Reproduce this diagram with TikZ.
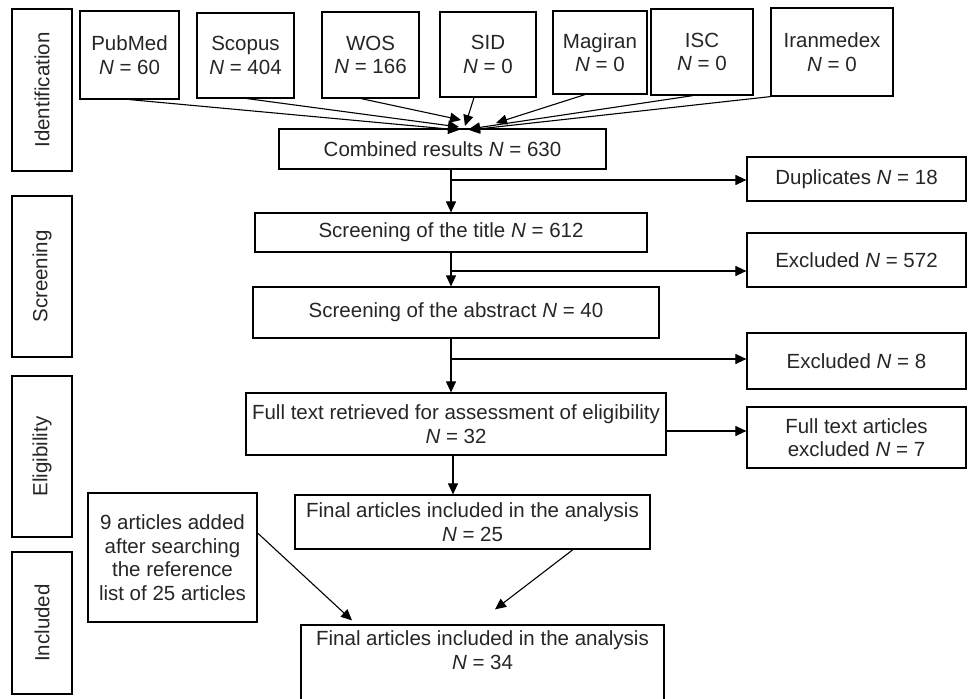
\documentclass[tikz,border=0pt]{standalone}
\usepackage{fontspec}
\setmainfont{Liberation Sans}
\usetikzlibrary{arrows.meta}
\begin{document}
\begin{tikzpicture}[x=1pt,y=-1pt,
  box/.style={draw=black, line width=1.2pt, inner sep=0pt, align=center,
    font=\fontsize{20.5}{23.5}\selectfont, text=black!85},
  txt/.style={inner sep=0pt, align=center, font=\fontsize{20.5}{23.5}\selectfont, text=black!85},
  arr/.style={draw=black, line width=1.1pt, -{Triangle[length=11pt,width=10pt]}}]
\useasboundingbox (0,0) rectangle (968,698);
\fill[white] (0,0) rectangle (968,698);
% stage labels
\node[box, rotate=90, minimum width=162, minimum height=60] (idl) at (42,90) {Identification};
\node[box, rotate=90, minimum width=161, minimum height=60] (scl) at (42,276.5) {Screening};
\node[box, rotate=90, minimum width=161, minimum height=60] (ell) at (42,456.5) {Eligibility};
\node[box, rotate=90, minimum width=142, minimum height=60] (inl) at (42,623) {Included};
% sources
\node[box, minimum width=99, minimum height=88] (pubmed) at (129.5,55) {PubMed\\\textit{N} = 60};
\node[box, minimum width=97, minimum height=85] (scopus) at (245.5,55.5) {Scopus\\\textit{N} = 404};
\node[box, minimum width=97, minimum height=86] (wos) at (370.5,55) {WOS\\\textit{N} = 166};
\node[box, minimum width=96, minimum height=85] (sid) at (488,54.5) {SID\\\textit{N} = 0};
\node[box, minimum width=94, minimum height=83] (magiran) at (600,52.5) {Magiran\\\textit{N} = 0};
\node[box, minimum width=102, minimum height=86] (isc) at (702,52) {ISC\\\textit{N} = 0};
\node[box, minimum width=122, minimum height=88] (iran) at (832,52) {Iranmedex\\\textit{N} = 0};
% main flow
\node[box, minimum width=327, minimum height=40] (comb) at (442.5,149) {Combined results \textit{N} = 630};
\node[box, minimum width=392, minimum height=39] (title) at (451,232.5) {Screening of the title \textit{N} = 612};
\node[box, minimum width=406, minimum height=51] (abs) at (456,312.5) {Screening of the abstract \textit{N} = 40};
\node[box, minimum width=420, minimum height=62] (full) at (456,424) {Full text retrieved for assessment of eligibility\\\textit{N} = 32};
\node[box, minimum width=355, minimum height=54] (f25) at (472.5,522) {Final articles included in the analysis\\\textit{N} = 25};
\node[box, minimum width=169, minimum height=129] (add) at (172.5,557.5) {9 articles added\\after searching\\the reference\\list of 25 articles};
\node[box, minimum width=363, minimum height=90] (f34box) at (482.5,670) {};
\node[txt] (f34) at (482.5,650) {Final articles included in the analysis\\\textit{N} = 34};
% side boxes
\node[box, minimum width=219, minimum height=44] (dup) at (856.5,179) {Duplicates \textit{N} = 18};
\node[box, minimum width=219, minimum height=54] (ex1) at (856.5,260) {Excluded \textit{N} = 572};
\node[box, minimum width=219, minimum height=56] (ex2) at (856.5,361) {Excluded \textit{N} = 8};
\node[box, minimum width=219, minimum height=61] (ex3) at (856.5,437.5) {Full text articles\\excluded \textit{N} = 7};
% convergence points
\coordinate (m1) at (459,130);
\coordinate (m2) at (459,127);
\coordinate (m3) at (461,120);
\coordinate (m4) at (465,126);
\coordinate (m5) at (496,123);
\coordinate (m6) at (469,129);
\coordinate (m7) at (469,130);
\draw[arr] (pubmed.south) -- (m1);
\draw[arr] ([xshift=1.5pt]scopus.south) -- (m2);
\draw[arr] ([xshift=-9.5pt]wos.south) -- (m3);
\draw[arr] ([xshift=-14pt]sid.south) -- (m4);
\draw[arr] ([xshift=-15pt]magiran.south) -- (m5);
\draw[arr] ([xshift=-9pt]isc.south) -- (m6);
\draw[arr] (iran.south west) -- (m7);
% vertical flow
\draw[arr] (comb.south -| title.north) -- (title.north);
\draw[arr] (title.south) -- (title.south |- abs.north);
\draw[arr] (title.south |- abs.south) -- (title.south |- full.north);
\draw[arr] ([xshift=-3pt]full.south) -- ([xshift=-3pt]full.south |- f25.north);
% branches
\coordinate (b1) at (451,180);
\coordinate (b2) at (450,271);
\coordinate (b3) at (450,359);
\draw[arr] (b1) -- (b1 -| dup.west);
\draw[arr] (b2) -- (b2 -| ex1.west);
\draw[arr] (b3) -- (b3 -| ex2.west);
\draw[arr] ([yshift=-7pt]full.east) -- ([yshift=-7pt]full.east -| ex3.west);
% into final
\draw[arr] ([xshift=100.5pt]f25.south) -- ([xshift=12.5pt,yshift=15pt]f34box.north);
\draw[arr] ([yshift=24.5pt]add.east) -- ([xshift=-130.5pt,yshift=4pt]f34box.north);
\end{tikzpicture}
\end{document}
